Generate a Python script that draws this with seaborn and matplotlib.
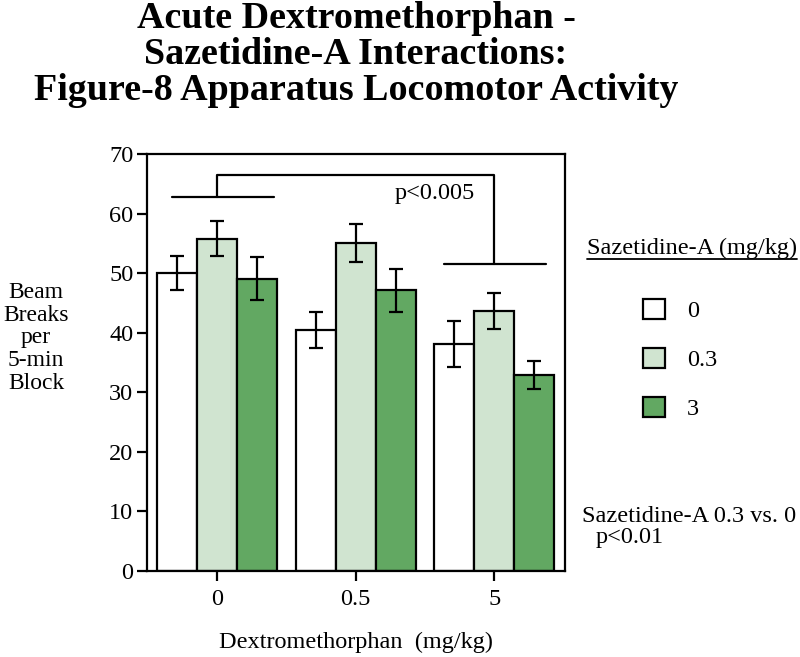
import pandas as pd
import matplotlib.pyplot as plt
import seaborn as sns
from matplotlib.lines import Line2D

# data
dxm_doses = ["0", "0.5", "5"]
saz_doses = ["0", "0.3", "3"]
means = {
    "0":   [50.0, 40.5, 38.1],
    "0.3": [55.8, 55.1, 43.7],
    "3":   [49.1, 47.1, 32.9],
}
sems = {
    "0":   [2.8, 3.0, 3.9],
    "0.3": [3.0, 3.2, 3.0],
    "3":   [3.6, 3.6, 2.4],
}
bar_colors = ["#ffffff", "#d0e4d0", "#62a862"]

rows = []
for s in saz_doses:
    for i, d in enumerate(dxm_doses):
        rows.append({"Dextromethorphan": d, "Sazetidine": s,
                     "Beam": means[s][i], "SEM": sems[s][i]})
df = pd.DataFrame(rows)

sns.set_theme(style="ticks")
plt.rcParams['font.family'] = ['Liberation Serif', 'DejaVu Serif']
plt.rcParams['text.color'] = 'black'
plt.rcParams['axes.labelcolor'] = 'black'

fs = 17.5

fig = plt.figure(figsize=(8, 6.57), dpi=100)
ax = fig.add_axes([0.184, 0.1309, 0.5225, 0.6347])

sns.barplot(data=df, x="Dextromethorphan", y="Beam", hue="Sazetidine",
            order=dxm_doses, hue_order=saz_doses, palette=bar_colors,
            width=0.866, errorbar=None, edgecolor="black", linewidth=1.6,
            saturation=1, ax=ax)
bar_conts = list(ax.containers)

# error bars on each bar
for cont, s in zip(bar_conts, saz_doses):
    xs = [b.get_x() + b.get_width() / 2 for b in cont]
    ax.errorbar(xs, means[s], yerr=sems[s], fmt="none", ecolor="black",
                elinewidth=1.6, capsize=4.7, capthick=1.6, zorder=5)

ax.set_xlim(-0.505, 2.513)
ax.set_ylim(0, 70)
ax.set_yticks(range(0, 71, 10))
for sp in ax.spines.values():
    sp.set_linewidth(1.6)
    sp.set_color("black")
ax.tick_params(axis="both", direction="out", length=7, width=1.6,
               labelsize=fs, colors="black", pad=3)
ax.tick_params(axis="x", pad=6)
ax.set_xlabel("Dextromethorphan  (mg/kg)", fontsize=fs, labelpad=16)
ax.set_ylabel("")

# significance bracket
lk = dict(color="black", lw=1.6, clip_on=False)
ax.plot([-0.325, 0.41], [62.8, 62.8], **lk)
ax.plot([1.64, 2.375], [51.6, 51.6], **lk)
ax.plot([0, 0, 2.0, 2.0], [62.8, 66.5, 66.5, 51.6], **lk)
ax.text(1.57, 63.3, "p<0.005", fontsize=fs, ha="center", va="center")

# legend
handles = [c.patches[0] for c in bar_conts]
ax.get_legend().remove()
fig.legend(handles, saz_doses, loc="upper left",
           bbox_to_anchor=(643 / 800, 1 - 299 / 657), frameon=False,
           fontsize=fs, handlelength=0.9, handleheight=0.9,
           handletextpad=0.9, labelspacing=1.05, borderpad=0,
           borderaxespad=0)
fig.text(587 / 800, 1 - 248 / 657, "Sazetidine-A (mg/kg)", fontsize=fs,
         ha="left", va="center")
fig.add_artist(Line2D([587 / 800, 797 / 800], [1 - 259 / 657, 1 - 259 / 657],
                      color="black", lw=1.3))

# y label
fig.text(36 / 800, 1 - 338 / 657, "Beam\nBreaks\nper\n5-min\nBlock",
         fontsize=17, ha="center", va="center", multialignment="center",
         linespacing=1.1)

# side note
fig.text(582 / 800, 1 - 516 / 657, "Sazetidine-A 0.3 vs. 0", fontsize=fs,
         ha="left", va="center")
fig.text(596 / 800, 1 - 538 / 657, "p<0.01", fontsize=fs,
         ha="left", va="center")

# title
fig.text(356 / 800, 1 - 1 / 657,
         "Acute Dextromethorphan -\nSazetidine-A Interactions:\nFigure-8 Apparatus Locomotor Activity",
         fontsize=27.4, fontweight="bold", ha="center", va="top",
         linespacing=1.04)

fig.savefig("out.png", dpi=100)
